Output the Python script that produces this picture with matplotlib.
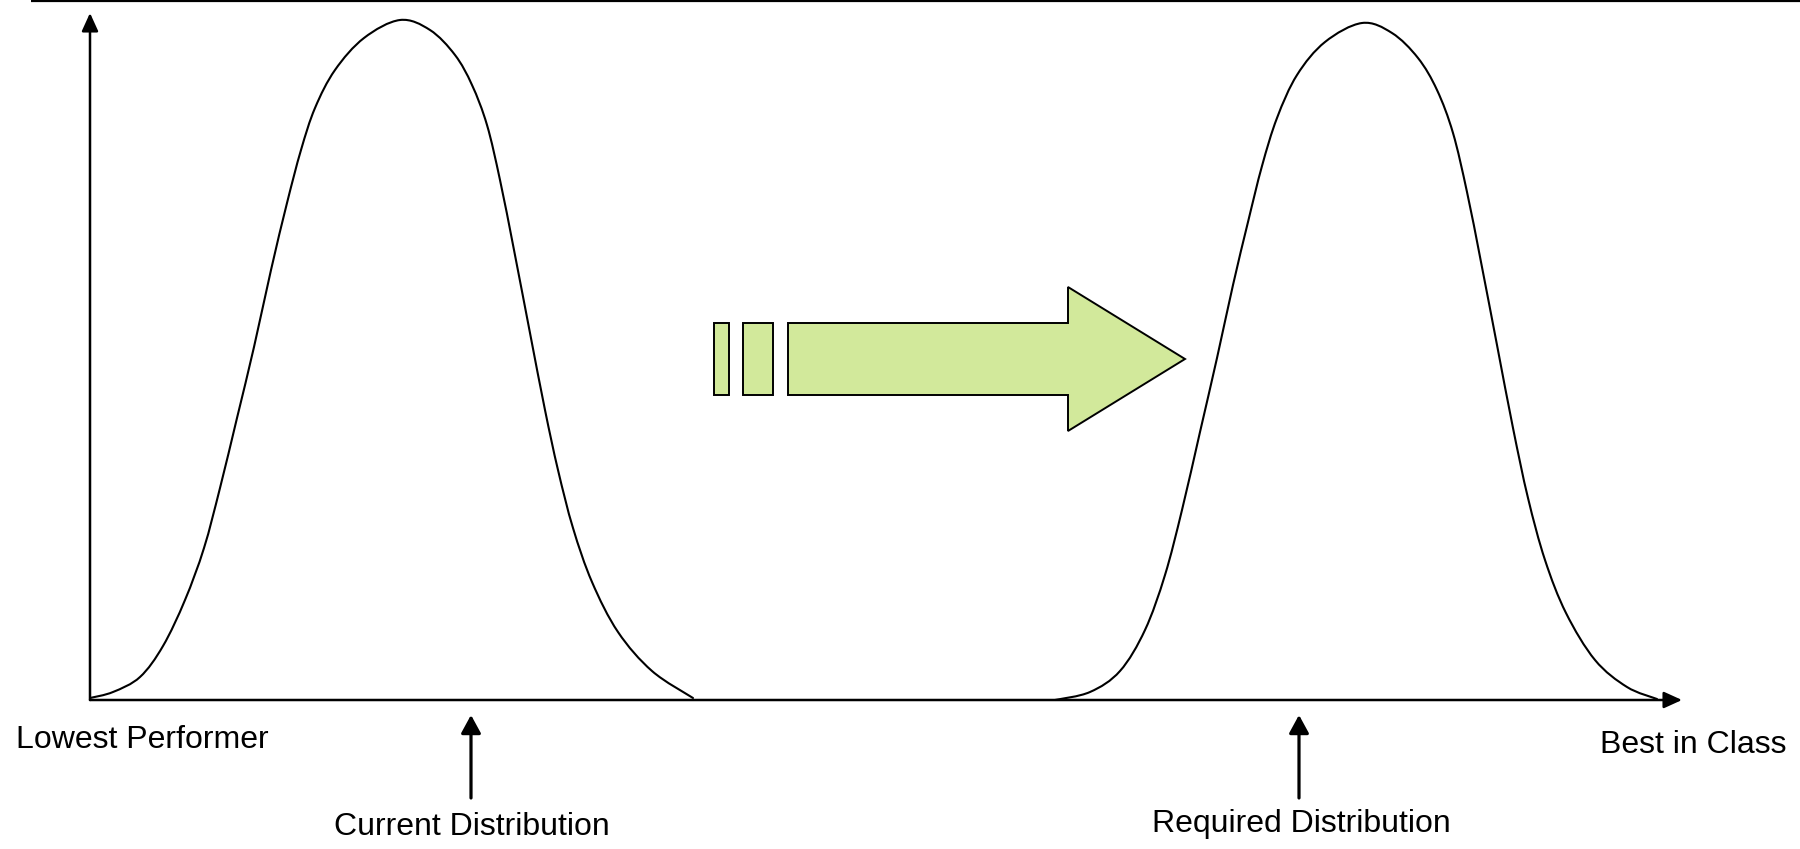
import matplotlib
matplotlib.use("Agg")
import matplotlib.pyplot as plt
from matplotlib.path import Path
from matplotlib.patches import PathPatch, Polygon, Rectangle, FancyArrowPatch

# ---- data (performance index on x, relative frequency on y) ----
current_x = [0, 23, 50, 73, 95, 114, 130, 147, 164, 181, 197, 211, 225, 245, 274,
             310, 340, 365, 382, 397, 410, 424, 440, 455, 468, 483, 502, 528, 562, 603]
current_y = [2, 8, 23, 54, 100, 152, 212, 282, 353, 430, 497, 550, 592, 630, 662,
             680, 670, 645, 615, 575, 520, 450, 367, 290, 230, 172, 118, 68, 29, 2]

required_x = [965, 1000, 1030, 1055, 1075, 1092, 1110, 1127, 1143, 1158, 1172, 1187, 1207, 1235,
              1272, 1302, 1328, 1347, 1363, 1377, 1391, 1407, 1423, 1438, 1455, 1476, 1505, 1537, 1567]
required_y = [0, 8, 29, 70, 125, 190, 268, 342, 415, 478, 534, 582, 625, 658,
              677, 667, 642, 610, 567, 508, 438, 355, 272, 202, 140, 87, 40, 13, 1]

axis_x_max = 1592
axis_y_max = 687
current_marker = 381
required_marker = 1209

label_low = "Lowest Performer"
label_best = "Best in Class"
label_current = "Current Distribution"
label_required = "Required Distribution"

# shift arrow (dashes + block arrow)
dash_left = [624, 653]
dash_right = [639, 683]
shaft_start, head_base, head_tip = 698, 978, 1095
shaft_low, shaft_high = 305, 377
head_low, head_high, tip_level = 269, 413, 341

GREEN = "#d2e99b"

fig = plt.figure(figsize=(18, 8.49), dpi=100)
ax = fig.add_axes([0, 0, 1, 1])
ax.set_xlim(-90, 1710)
ax.set_ylim(-149, 700)
ax.axis("off")

FONT = "Liberation Sans"


def smooth_path(xs, ys):
    """Catmull-Rom curve through the read points, rendered as cubic Beziers."""
    pts = list(zip(xs, ys))
    n = len(pts)
    verts = [pts[0]]
    codes = [Path.MOVETO]
    for i in range(n - 1):
        p0 = pts[i - 1] if i > 0 else pts[i]
        p1 = pts[i]
        p2 = pts[i + 1]
        p3 = pts[i + 2] if i + 2 < n else pts[i + 1]
        c1 = (p1[0] + (p2[0] - p0[0]) / 6, p1[1] + (p2[1] - p0[1]) / 6)
        c2 = (p2[0] - (p3[0] - p1[0]) / 6, p2[1] - (p3[1] - p1[1]) / 6)
        verts += [c1, c2, p2]
        codes += [Path.CURVE4] * 3
    return Path(verts, codes)


# top rule
ax.plot([-59, 1710], [699, 699], color="black", lw=1.6, solid_capstyle="butt")

# axes with arrowheads
for end in [(axis_x_max, 0), (0, axis_y_max)]:
    ax.add_patch(FancyArrowPatch((0, 0), end,
                                 arrowstyle="-|>,head_length=1.1,head_width=0.5",
                                 mutation_scale=10, lw=1.8, color="black",
                                 shrinkA=0, shrinkB=0))

# distribution curves
for xs, ys in [(current_x, current_y), (required_x, required_y)]:
    ax.add_patch(PathPatch(smooth_path(xs, ys), fill=False, lw=1.5,
                           edgecolor="black", capstyle="round", joinstyle="round"))

# marker arrows
for mx in [current_marker, required_marker]:
    ax.add_patch(FancyArrowPatch((mx, -98), (mx, -15),
                                 arrowstyle="-|>,head_length=1.1,head_width=0.6",
                                 mutation_scale=10, lw=2.3, color="black",
                                 shrinkA=0, shrinkB=0))

# green shift arrow
for l, r in zip(dash_left, dash_right):
    ax.add_patch(Rectangle((l, shaft_low), r - l, shaft_high - shaft_low,
                           facecolor=GREEN, edgecolor="black", lw=1.4))
ax.add_patch(Polygon([(shaft_start, shaft_low), (head_base, shaft_low), (head_base, head_low),
                      (head_tip, tip_level), (head_base, head_high), (head_base, shaft_high),
                      (shaft_start, shaft_high)], closed=True,
                     facecolor=GREEN, edgecolor="black", lw=1.4))

# labels
ts = 23
ax.text(-74, -40, label_low, fontsize=ts, family=FONT, ha="left", va="center")
ax.text(1510, -45, label_best, fontsize=ts, family=FONT, ha="left", va="center")
ax.text(current_marker + 1, -127, label_current, fontsize=ts, family=FONT, ha="center", va="center")
ax.text(required_marker + 2, -124, label_required, fontsize=ts, family=FONT, ha="center", va="center")

fig.savefig("out.png", dpi=100, facecolor="white")
